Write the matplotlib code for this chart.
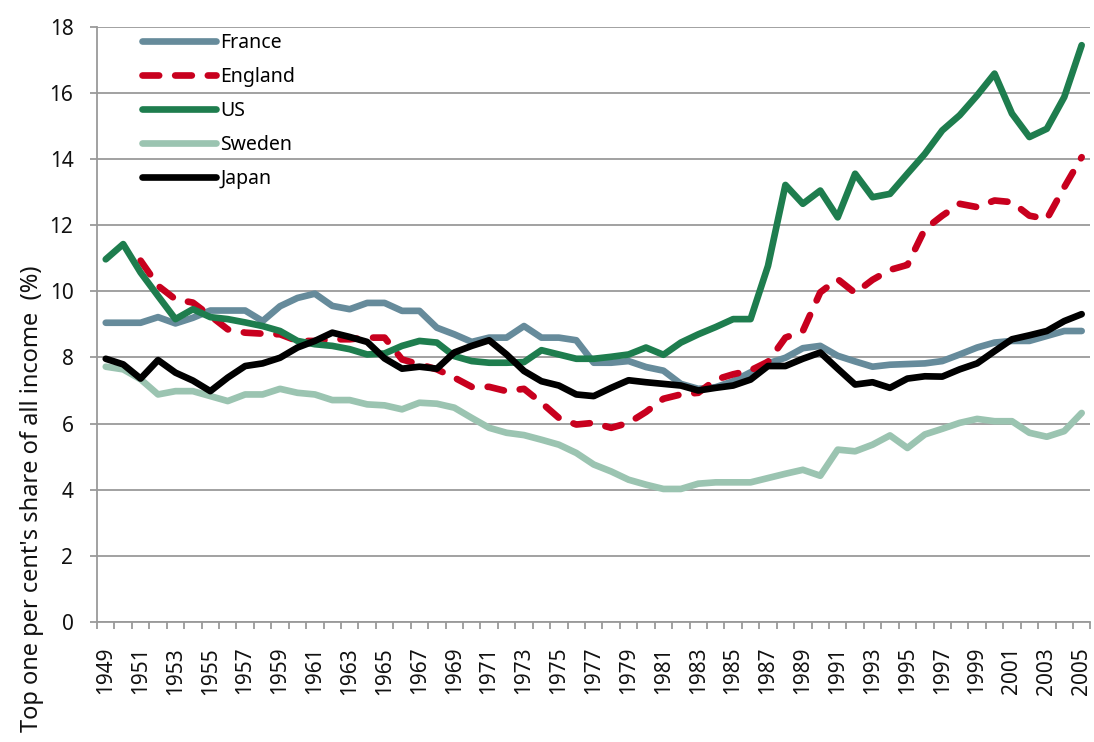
import matplotlib.pyplot as plt
import numpy as np

plt.rcParams['font.family'] = ['Noto Sans', 'DejaVu Sans']

# Years on the category axis
years = list(range(1949, 2006))

# Top 1% share of income (%)
france = [9.05, 9.05, 9.05, 9.22, 9.03, 9.2, 9.42, 9.42, 9.42, 9.1,
          9.55, 9.8, 9.93, 9.56, 9.46, 9.65, 9.65, 9.41, 9.41, 8.9,
          8.7, 8.47, 8.6, 8.6, 8.95, 8.6, 8.6, 8.52, 7.84, 7.84,
          7.89, 7.71, 7.6, 7.2, 7.05, 7.1, 7.28, 7.55, 7.82, 7.99,
          8.28, 8.35, 8.05, 7.88, 7.72, 7.78, 7.8, 7.82, 7.89, 8.09,
          8.3, 8.45, 8.5, 8.5, 8.65, 8.8, 8.8]
england = [np.nan, np.nan, 10.93, 10.17, 9.76, 9.66, 9.26, 8.85, 8.75, 8.72,
           8.7, 8.5, 8.5, 8.55, 8.55, 8.6, 8.6, 7.94, 7.79, 7.64,
           7.39, 7.11, 7.11, 6.98, 7.05, 6.63, 6.17, 5.97, 6.02, 5.87,
           6.02, 6.35, 6.75, 6.88, 6.93, 7.33, 7.49, 7.61, 7.87, 8.6,
           8.8, 9.97, 10.37, 9.95, 10.35, 10.65, 10.8, 11.88, 12.29, 12.65,
           12.55, 12.75, 12.7, 12.29, 12.19, 13.15, 14.06]
us = [10.97, 11.43, 10.57, 9.86, 9.16, 9.46, 9.22, 9.16, 9.06, 8.95,
      8.8, 8.5, 8.4, 8.35, 8.25, 8.09, 8.12, 8.35, 8.5, 8.45,
      8.04, 7.89, 7.84, 7.84, 7.86, 8.22, 8.09, 7.96, 7.96, 8.02,
      8.09, 8.3, 8.08, 8.45, 8.7, 8.92, 9.16, 9.16, 10.77, 13.22,
      12.65, 13.05, 12.24, 13.56, 12.85, 12.95, 13.56, 14.16, 14.87, 15.33,
      15.93, 16.59, 15.38, 14.67, 14.92, 15.88, 17.45]
sweden = [7.72, 7.64, 7.34, 6.88, 6.98, 6.98, 6.83, 6.68, 6.88, 6.88,
          7.05, 6.93, 6.88, 6.71, 6.71, 6.58, 6.55, 6.43, 6.63, 6.6,
          6.48, 6.17, 5.87, 5.72, 5.65, 5.51, 5.36, 5.11, 4.76, 4.55,
          4.3, 4.15, 4.02, 4.02, 4.18, 4.22, 4.22, 4.22, 4.35, 4.48,
          4.6, 4.42, 5.21, 5.16, 5.36, 5.64, 5.26, 5.67, 5.84, 6.02,
          6.14, 6.07, 6.07, 5.72, 5.6, 5.77, 6.32]
japan = [7.96, 7.79, 7.36, 7.92, 7.54, 7.3, 6.98, 7.39, 7.74, 7.82,
         7.99, 8.3, 8.5, 8.75, 8.62, 8.47, 7.97, 7.66, 7.72, 7.66,
         8.15, 8.35, 8.52, 8.09, 7.59, 7.28, 7.15, 6.88, 6.83, 7.08,
         7.31, 7.25, 7.2, 7.15, 7.0, 7.08, 7.15, 7.33, 7.74, 7.74,
         7.96, 8.15, 7.66, 7.18, 7.25, 7.08, 7.36, 7.43, 7.42, 7.64,
         7.82, 8.19, 8.55, 8.67, 8.8, 9.1, 9.31]

fig = plt.figure(figsize=(10.94, 7.42), dpi=100)
ax = fig.add_axes([0.0887, 0.162, 0.908, 0.8016])

x = np.arange(len(years))
lw = 4.8
common = dict(linewidth=lw, solid_capstyle='round', solid_joinstyle='round',
              dash_capstyle='round', dash_joinstyle='round')
ax.plot(x, france, color='#668b9b', label='France', **common)
ax.plot(x, england, color='#c8001e', linestyle=(0, (2.5, 2.4)),
        label='England', **common)
ax.plot(x, us, color='#1e7d4e', label='US', **common)
ax.plot(x, sweden, color='#9bc4b1', label='Sweden', **common)
ax.plot(x, japan, color='#000000', label='Japan', **common)

ax.set_xlim(-0.5, len(years) - 0.5)
ax.set_ylim(0, 18)
ax.set_yticks(range(0, 19, 2))

# labels every other year, tick marks between categories
ax.set_xticks(x[::2])
ax.set_xticklabels([str(y) for y in years[::2]], rotation=90)
ax.set_xticks(np.arange(-0.5, len(years), 1), minor=True)

grid_c = '#9a9a9a'
ax.yaxis.grid(True, color=grid_c, linewidth=1.3)
ax.set_axisbelow(True)
for s in ['top', 'right']:
    ax.spines[s].set_visible(False)
for s in ['left', 'bottom']:
    ax.spines[s].set_color(grid_c)
    ax.spines[s].set_linewidth(1.3)

ax.tick_params(axis='y', length=5, width=1.3, color=grid_c, pad=12,
               labelsize=15, labelcolor='#111111')
ax.tick_params(axis='x', which='major', length=0, pad=18,
               labelsize=15, labelcolor='#111111')
ax.tick_params(axis='x', which='minor', length=5, width=1.3, color=grid_c)

fig.text(0.029, 0.328, "Top one per cent's share of all income  (%)",
         rotation=90, va='center', ha='center', fontsize=17, color='#111111')

ax.legend(loc='upper left', bbox_to_anchor=(0.045, 0.99), frameon=False,
          fontsize=14, handlelength=3.8, handletextpad=0.25,
          labelspacing=0.72, borderpad=0, borderaxespad=0)

fig.savefig('out.png', dpi=100)
